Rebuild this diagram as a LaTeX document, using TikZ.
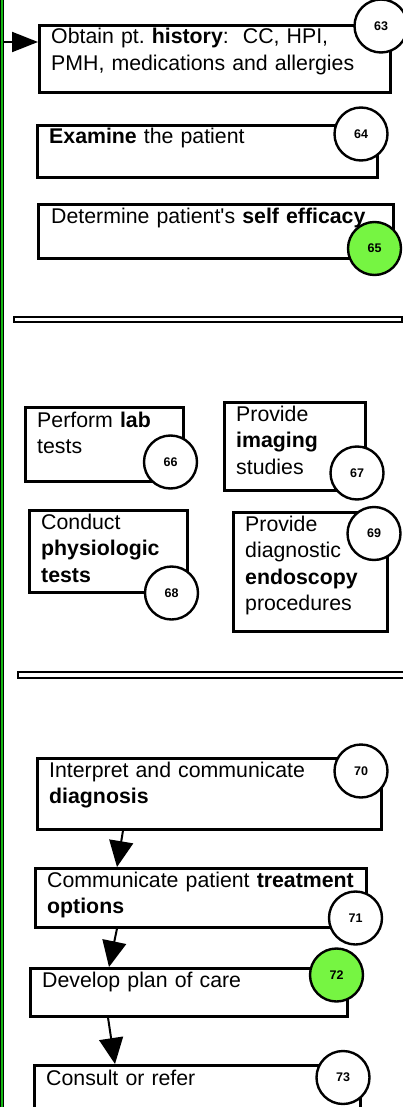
\documentclass[tikz,border=0pt]{standalone}
\usepackage{fontspec}
\setmainfont{Liberation Sans}[Ligatures=TeXOff]
\usepackage{tikz}
\usetikzlibrary{arrows.meta}
\pgfdeclarelayer{background}
\pgfsetlayers{background,main}
\definecolor{lanegreen}{RGB}{20,185,20}
\definecolor{donegreen}{RGB}{118,245,66}
\frenchspacing

\begin{document}
\begin{tikzpicture}[x=1pt,y=-1pt,->,>={Triangle[length=26pt,width=24pt]}]
 \useasboundingbox (0,0) rectangle (403,1107);
 \clip (0,0) rectangle (403,1107);
 % styles
 \tikzstyle{taskbox} = [rectangle,draw=black,line width=2.6pt,fill=white,anchor=north west,inner sep=0pt];
 \tikzstyle{tasktext} = [anchor=base west,align=left,text width=330pt,inner sep=0pt,font=\fontsize{21.3}{26.5}\selectfont];
 \tikzstyle{stepnum} = [circle,draw=black,line width=2.4pt,fill=white,minimum size=53pt,inner sep=0pt,font=\fontsize{12.5}{14}\selectfont\bfseries];
 \tikzstyle{divider} = [rectangle,draw=black,line width=2pt,fill=white,anchor=north west,inner sep=0pt];
 \tikzstyle{lane} = [rectangle,draw=black,line width=0.7pt,fill=lanegreen,anchor=north west,inner sep=0pt];

 % lane
 \node[lane,minimum width=2.6pt,minimum height=1130pt] (lane) at (0.4,-10) {};

 % boxes
 \node[taskbox,minimum width=351pt,minimum height=67pt] (history) at (38,24) {};
 \node[taskbox,minimum width=340pt,minimum height=52pt] (examine) at (36,124) {};
 \node[taskbox,minimum width=355pt,minimum height=54pt] (efficacy) at (37,203) {};
 \node[divider,minimum width=388pt,minimum height=5pt] (div1) at (13,316) {};

 \node[taskbox,minimum width=158pt,minimum height=74pt] (lab) at (24,406) {};
 \node[taskbox,minimum width=141pt,minimum height=88pt] (imaging) at (223,401) {};
 \node[taskbox,minimum width=158pt,minimum height=82pt] (physio) at (28,509) {};
 \node[taskbox,minimum width=154pt,minimum height=119pt] (endo) at (232,511) {};
 \node[divider,minimum width=400pt,minimum height=6pt] (div2) at (17,671) {};

 \node[taskbox,minimum width=344pt,minimum height=71pt] (diagnosis) at (36,757) {};
 \node[taskbox,minimum width=331pt,minimum height=59pt] (treatment) at (34,867) {};
 \node[taskbox,minimum width=317pt,minimum height=48pt] (plan) at (29,967) {};
 \node[taskbox,minimum width=326pt,minimum height=70pt] (refer) at (33,1064) {};

 % texts
 \node[tasktext] (historytxt) at ([shift={(13pt,-20pt)}]history.north west) {Obtain pt. \textbf{history}:\ \ CC, HPI,\\PMH, medications and allergies};
 \node[tasktext] (examinetxt) at ([shift={(13pt,-20pt)}]examine.north west) {\textbf{Examine} the patient};
 \node[tasktext] (efficacytxt) at ([shift={(14pt,-21pt)}]efficacy.north west) {Determine patient's \textbf{self efficacy}};
 \node[tasktext] (labtxt) at ([shift={(13pt,-21pt)}]lab.north west) {Perform \textbf{lab}\\tests};
 \node[tasktext] (imagingtxt) at ([shift={(13pt,-20pt)}]imaging.north west) {Provide\\\textbf{imaging}\\studies};
 \node[tasktext] (physiotxt) at ([shift={(13pt,-20pt)}]physio.north west) {Conduct\\\textbf{physiologic}\\\textbf{tests}};
 \node[tasktext] (endotxt) at ([shift={(13pt,-20pt)}]endo.north west) {Provide\\diagnostic\\\textbf{endoscopy}\\procedures};
 \node[tasktext] (diagnosistxt) at ([shift={(13pt,-20pt)}]diagnosis.north west) {Interpret and communicate\\\textbf{diagnosis}};
 \node[tasktext] (treatmenttxt) at ([shift={(13pt,-20pt)}]treatment.north west) {Communicate patient \textbf{treatment}\\\textbf{options}};
 \node[tasktext] (plantxt) at ([shift={(13pt,-20pt)}]plan.north west) {Develop plan of care};
 \node[tasktext] (refertxt) at ([shift={(13pt,-21pt)}]refer.north west) {Consult or refer};

 % step numbers
 \node[stepnum] (n63) at (381,26) {63};
 \node[stepnum] (n64) at (361,134) {64};
 \node[stepnum,fill=donegreen] (n65) at (374.5,248.5) {65};
 \node[stepnum] (n66) at (170.5,462) {66};
 \node[stepnum] (n67) at (357,473) {67};
 \node[stepnum] (n68) at (171.5,593) {68};
 \node[stepnum] (n69) at (374,533.5) {69};
 \node[stepnum] (n70) at (361,771) {70};
 \node[stepnum] (n71) at (355.5,918) {71};
 \node[stepnum,fill=donegreen] (n72) at (336.5,975) {72};
 \node[stepnum] (n73) at (343,1077.5) {73};

 \coordinate (entry) at ([yshift=-18pt]history.north west);

 \begin{pgfonlayer}{background}
 % edges
 \draw[line width=2pt,>={Triangle[length=26pt,width=20pt]}] (lane.east |- entry) -- (entry);
 \draw[line width=2pt] ([xshift=87pt]diagnosis.south west) -- ([xshift=83pt]treatment.north west);
 \draw[line width=2pt] ([xshift=83pt]treatment.south west) -- ([xshift=80pt]plan.north west);
 \draw[line width=2pt] ([xshift=79pt]plan.south west) -- ([xshift=82pt]refer.north west);
 \end{pgfonlayer}
\end{tikzpicture}
\end{document}
